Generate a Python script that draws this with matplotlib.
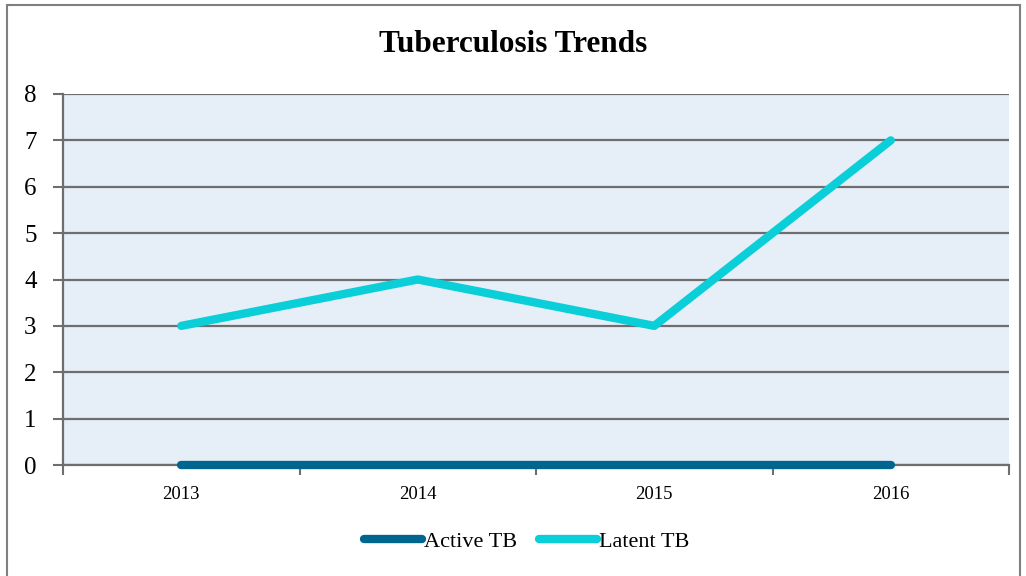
import matplotlib.pyplot as plt
from matplotlib.patches import Rectangle

years = ['2013', '2014', '2015', '2016']
active_tb = [0, 0, 0, 0]
latent_tb = [3, 4, 3, 7]

plt.rcParams['font.family'] = ['Liberation Serif', 'DejaVu Serif']

fig = plt.figure(figsize=(10.26, 5.76), dpi=100)
fig.patches.append(Rectangle((7 / 1026, -0.1), 1013 / 1026, 1.1 - 5 / 576,
                             transform=fig.transFigure, fill=False,
                             edgecolor='#7f7f7f', linewidth=1.5))

ax = fig.add_axes([63 / 1026, 1 - 465 / 576, 946 / 1026, 371 / 576])
ax.set_facecolor('#e6eef8')

x = range(len(years))
ax.plot(x, active_tb, color='#006690', linewidth=6, solid_capstyle='round',
        label='Active TB', zorder=3, clip_on=False)
ax.plot(x, latent_tb, color='#0acfd8', linewidth=6, solid_capstyle='round',
        label='Latent TB', zorder=3, clip_on=False)

ax.set_xlim(-0.5, 3.5)
ax.set_ylim(0, 8)
ax.set_yticks(range(0, 9))
ax.grid(axis='y', color='#6e6e6e', linewidth=1.6)
ax.set_axisbelow(True)

ax.set_xticks([-0.5, 0.5, 1.5, 2.5, 3.5])
ax.set_xticklabels([])
ax.set_xticks(list(x), minor=True)
ax.set_xticklabels(years, minor=True, fontsize=13.5)
ax.tick_params(axis='x', which='major', length=7, width=1.5, color='#6e6e6e')
ax.tick_params(axis='x', which='minor', length=0, pad=15)
ax.tick_params(axis='y', length=7, width=1.5, color='#6e6e6e', labelsize=18, pad=12)

for side in ['top', 'right']:
    ax.spines[side].set_visible(False)
for side in ['left', 'bottom']:
    ax.spines[side].set_color('#6e6e6e')
    ax.spines[side].set_linewidth(1.6)

fig.suptitle('Tuberculosis Trends', y=1 - 44 / 576, va='center',
             fontsize=22.5, fontweight='bold')

fig.legend(loc='center', bbox_to_anchor=(527 / 1026, 1 - 542 / 576), ncol=2,
           frameon=False, fontsize=16, handlelength=2.6, handletextpad=0.1,
           columnspacing=1.0)

fig.savefig('out.png', dpi=100)
